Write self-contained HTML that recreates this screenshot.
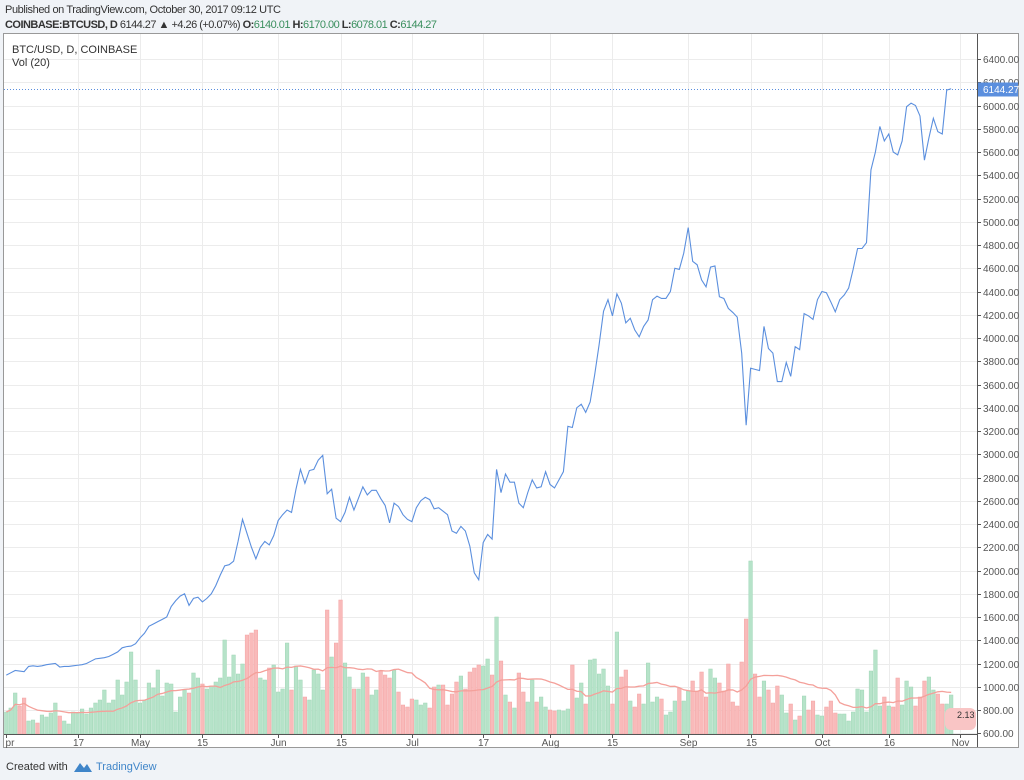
<!DOCTYPE html>
<html><head><meta charset="utf-8"><style>
html,body{margin:0;padding:0;background:#f0f3f7;}
svg{display:block;font-family:"Liberation Sans",sans-serif;}
</style></head><body>
<svg id="chart" width="1024" height="780" viewBox="0 0 1024 780">
<rect x="0" y="0" width="1024" height="780" fill="#f0f3f7"/>
<text x="5" y="13" font-size="11" fill="#333" textLength="276">Published on TradingView.com, October 30, 2017 09:12 UTC</text>
<text x="5" y="28" font-size="11" fill="#333" textLength="432"><tspan font-weight="bold">COINBASE:BTCUSD, D</tspan> 6144.27 <tspan fill="#333">▲</tspan> +4.26 (+0.07%) <tspan font-weight="bold">O:</tspan><tspan fill="#3a8f5e">6140.01</tspan> <tspan font-weight="bold">H:</tspan><tspan fill="#3a8f5e">6170.00</tspan> <tspan font-weight="bold">L:</tspan><tspan fill="#3a8f5e">6078.01</tspan> <tspan font-weight="bold">C:</tspan><tspan fill="#3a8f5e">6144.27</tspan></text>
<rect x="3.5" y="33.5" width="1015" height="714" fill="#fff" stroke="#999"/>
<g id="grid"></g>
<g id="vol"></g>
<g id="price"></g>
<line x1="977.5" y1="34" x2="977.5" y2="747" stroke="#555"/>
<line x1="4" y1="734.5" x2="977" y2="734.5" stroke="#555"/>
<g id="axes"></g>
<text x="12" y="53" font-size="11" fill="#333">BTC/USD, D, COINBASE</text>
<text x="12" y="66" font-size="11" fill="#333">Vol (20)</text>
<text x="6" y="770" font-size="11" fill="#333">Created with</text>
<g><path d="M74 772 L80 763 L84 768 L87 764 L92 772 Z" fill="#3f85c9"/></g>
<text x="96" y="770" font-size="11" fill="#3f85c9">TradingView</text>
</svg>
<script>
const prices = [
1100,1120,1140,1135,1130,1175,1180,1175,1180,1190,1195,1200,1170,1175,1175,1180,1185,1190,1200,1220,1240,1245,1250,1260,1280,1300,1335,1345,1350,1370,
1420,1460,1520,1540,1560,1580,1600,1690,1740,1780,1800,1700,1760,1770,1730,1760,1800,1870,1960,2040,2050,2080,2250,2440,2320,2200,2100,2200,2250,2220,2300,
2430,2480,2520,2500,2700,2870,2750,2860,2870,2950,2990,2660,2700,2450,2420,2500,2630,2520,2620,2720,2650,2690,2690,2620,2560,2410,2580,2550,2480,2440,
2420,2540,2600,2630,2610,2530,2540,2510,2480,2340,2320,2380,2340,2210,1980,1920,2240,2310,2270,2870,2670,2830,2760,2760,2580,2540,2670,2780,2710,2720,2850,
2740,2710,2780,2850,3240,3230,3400,3430,3360,3450,3680,3940,4230,4330,4190,4380,4300,4130,4170,4070,4010,4100,4155,4330,4360,4340,4340,4400,4600,4590,4730,
4950,4660,4630,4500,4440,4610,4620,4355,4340,4255,4220,4180,3870,3250,3740,3730,3720,4100,3910,3870,3625,3625,3790,3670,3925,3900,4210,4190,4160,4330,
4400,4390,4310,4225,4330,4370,4430,4590,4770,4770,4820,5445,5600,5820,5695,5755,5600,5575,5695,5990,6020,6000,5910,5530,5720,5890,5775,5755,6133,6144.27];
const volumes = [
22,26,41,28,36,13,14,11,19,
17,21,31,18,13,10,22,21,
25,20,26,31,34,44,
31,34,54,39,52,82,54,31,34,51,
46,64,38,51,50,22,37,44,41,61,
56,50,45,48,52,56,94,57,79,60,
70,99,101,104,56,54,66,69,42,45,
91,44,68,54,37,34,64,60,44,124,
77,91,134,71,57,45,45,61,57,39,
44,63,59,56,64,42,29,27,35,34,
29,31,26,47,49,49,29,40,52,58,45,62,66,
69,68,75,59,117,73,39,32,26,61,42,32,54,32,37,27,
24,23,24,23,25,69,36,51,30,74,75,60,65,48,30,102,57,64,33,27,40,30,71,32,37,35,19,22,33,46,33,
43,53,43,62,37,65,56,51,43,70,32,28,72,115,173,60,37,53,44,31,48,39,21,30,14,18,38,24,33,19,
18,27,33,21,20,20,13,22,45,44,22,63,84,28,37,28,27,56,29,53,47,28,37,53,57,44,40,30,30,39];
const priceTicks = [6400,6200,6000,5800,5600,5400,5200,5000,4800,4600,4400,4200,4000,3800,3600,3400,3200,3000,2800,2600,2400,2200,2000,1800,1600,1400,1200,1000,800,600];
const timeLabels = ["pr","17","May","15","Jun","15","Jul","17","Aug","15","Sep","15","Oct","16","Nov"];
const timeLabelDays = [-30,-14,0,14,31,45,61,77,92,106,123,137,153,168,184];
const startOffset = -30;

const NS = "http://www.w3.org/2000/svg";
function xDay(d){ return 140 + d*4.457; }
function xIdx(i){ return xDay(i + startOffset); }
function yPrice(v){ return 59 + (6400 - v)*0.11625; }
function yVol(v){ return 734 - v; }
function mk(tag, attrs, parent){ const e=document.createElementNS(NS,tag); for(const k in attrs) e.setAttribute(k,attrs[k]); parent.appendChild(e); return e; }

const grid=document.getElementById('grid'), vol=document.getElementById('vol'), price=document.getElementById('price'), axes=document.getElementById('axes');

priceTicks.forEach(t=>{
  const y=Math.round(yPrice(t))+0.5;
  const gl=mk('line',{x1:4,x2:977,y1:y,y2:y,stroke:'#ececec'},grid);
  
  
  const tk=mk('line',{x1:977,x2:981,y1:y,y2:y,stroke:'#555'},axes);
  
  
  const tx=mk('text',{x:983,y:y+3.5,'font-size':10,fill:'#555'},axes);
  tx.textContent=t.toFixed(2);
  
  
});
timeLabels.forEach((lab,k)=>{
  const x=Math.round(xDay(timeLabelDays[k]))+0.5;
  if(k>0){
    const gl=mk('line',{x1:x,x2:x,y1:34,y2:734,stroke:'#ececec'},grid);
    
    
  }
  const tk=mk('line',{x1:x,x2:x,y1:734,y2:738,stroke:'#555'},axes);
  
  
  const tx=mk('text',{x:k===0?Math.max(x,10):x,y:746,'font-size':10,fill:'#555','text-anchor':'middle'},axes);
  tx.textContent=lab;
  
  
});

volumes.forEach((v,i)=>{
  const up = i===0 ? true : prices[i] >= prices[i-1];
  const x=xIdx(i);
  const r=mk('rect',{x:(x-1.8).toFixed(2),y:yVol(v),width:3.6,height:v,fill:up?'#b6e3c9':'#f9baba',stroke:up?'#9fd6b6':'#f3a3a3','stroke-width':0.5},vol);
  
  
});
let ma='';
volumes.forEach((v,i)=>{
  const s=Math.max(0,i-19); let sum=0; for(let j=s;j<=i;j++) sum+=volumes[j];
  const m=sum/(i-s+1);
  ma+=(i?'L':'M')+xIdx(i).toFixed(2)+' '+yVol(m).toFixed(2);
});
const mal=mk('path',{d:ma,fill:'none',stroke:'#f4a09a','stroke-width':1.3},vol);



let pd='';
prices.forEach((p,i)=>{ pd+=(i?'L':'M')+xIdx(i).toFixed(2)+' '+yPrice(p).toFixed(2); });
const pl=mk('path',{d:pd,fill:'none',stroke:'#5b8fde','stroke-width':1.1},price);



const last=prices[prices.length-1];
const ly=Math.round(yPrice(last))+0.5;
const dl=mk('line',{x1:4,x2:977,y1:ly,y2:ly,stroke:'#5b8fde','stroke-dasharray':'1,2','stroke-width':1},price);


const tag=mk('rect',{x:978,y:ly-7,width:40,height:14,fill:'#5b8fde'},axes);


const tt=mk('text',{x:983,y:ly+3.5,'font-size':10,fill:'#fff'},axes);
tt.textContent=last.toFixed(2);


const vt=mk('rect',{x:945,y:708,width:31,height:22,rx:6,fill:'#f9c5c5'},axes);


const vtx=mk('text',{x:957,y:718,'font-size':9,fill:'#333'},axes);
vtx.textContent='2.13';


</script>
</body></html>
